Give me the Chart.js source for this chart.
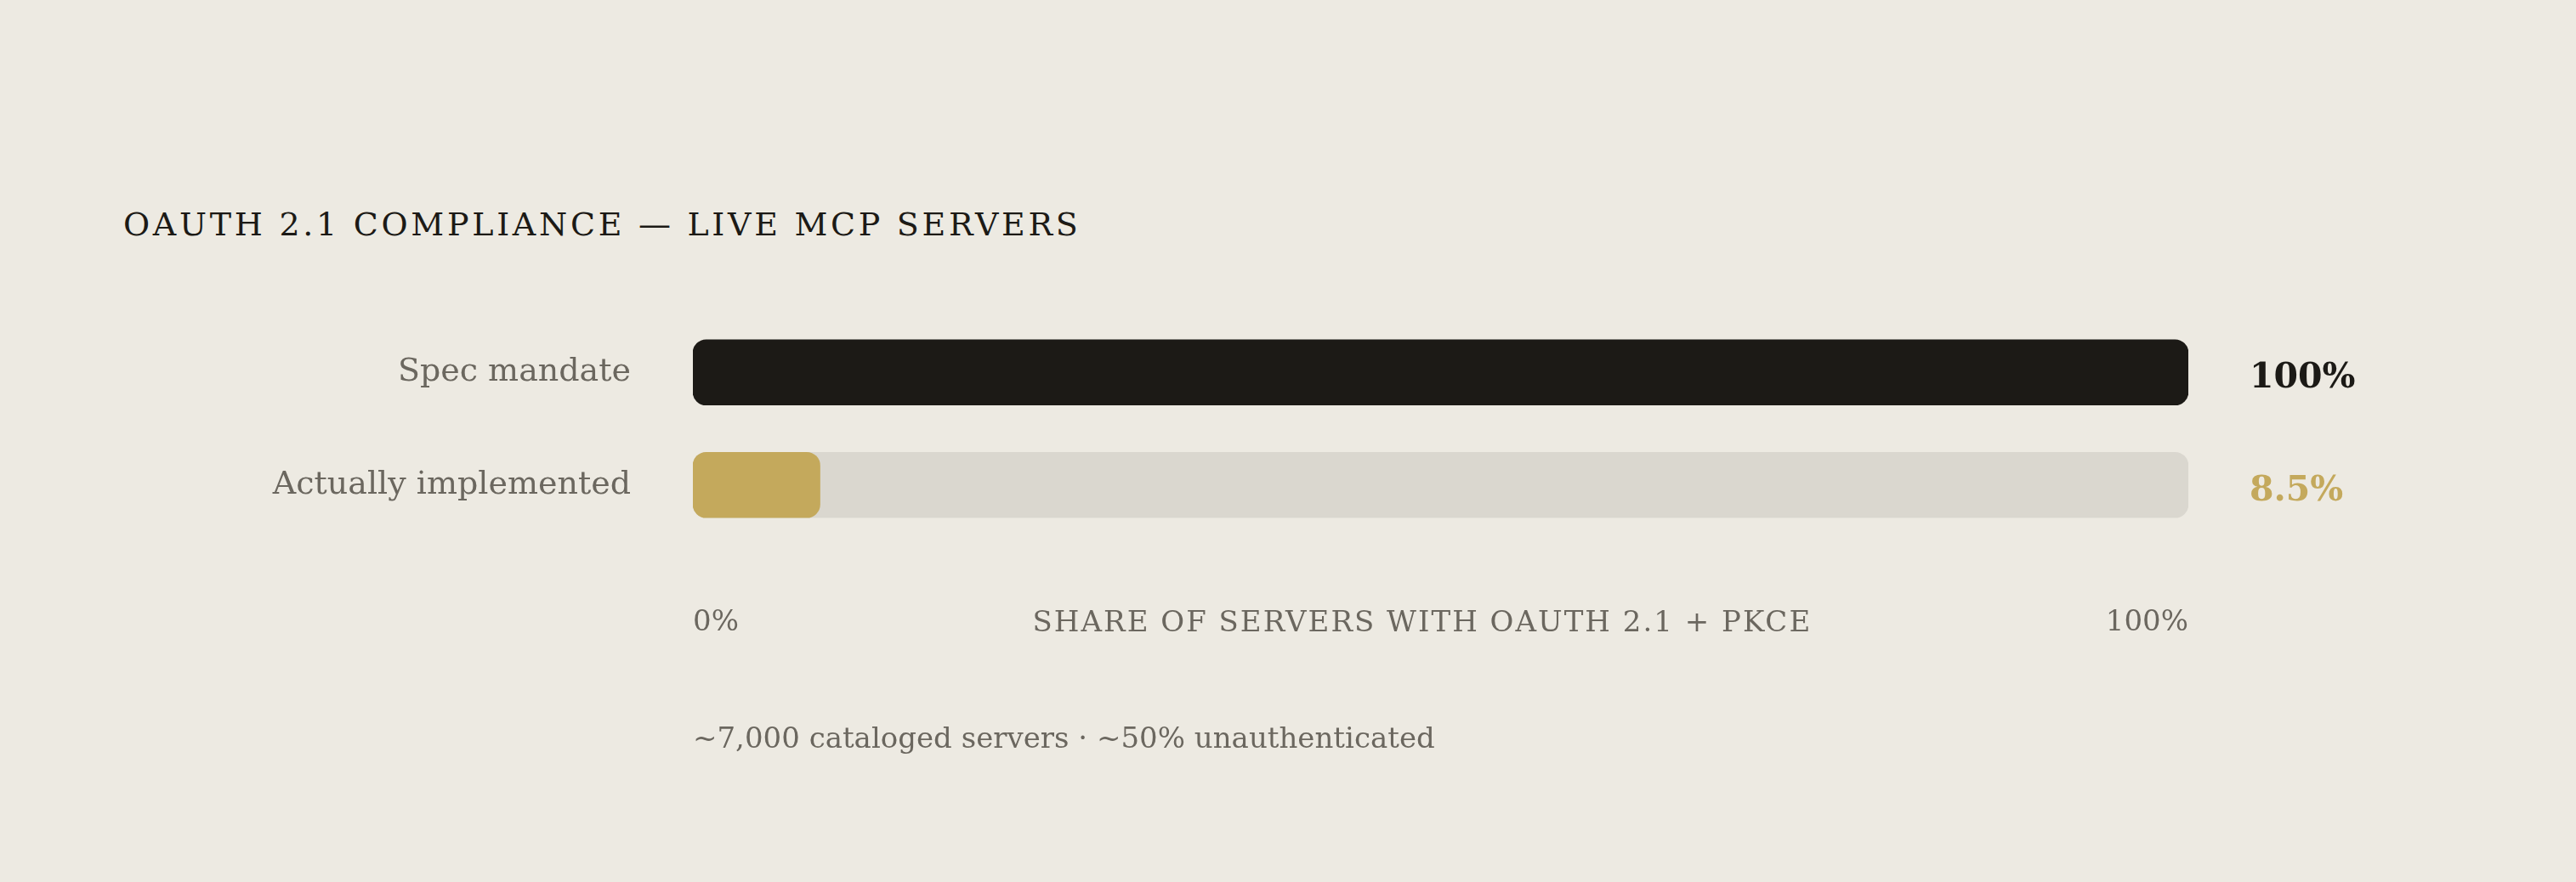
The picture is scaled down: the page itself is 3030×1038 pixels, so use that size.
<!DOCTYPE html>
<html>
<head>
<meta charset="utf-8">
<script src="https://cdn.jsdelivr.net/npm/chart.js@4.4.1/dist/chart.umd.min.js"></script>
<style>
  html, body { margin: 0; padding: 0; background: #edeae2; }
  #wrap { position: relative; width: 3030px; height: 1038px; overflow: hidden; }
  #chart-box { position: absolute; left: 0; top: 0; width: 3030px; height: 1038px; }
  .title {
    position: absolute; left: 145px; top: 245px;
    font: 38px "DejaVu Serif"; line-height: 1; letter-spacing: 3.7px;
    color: #1c1a16; white-space: nowrap;
  }
  .note {
    position: absolute; left: 815px; top: 851px;
    font: 34px "DejaVu Serif"; line-height: 1;
    color: #6b675f; white-space: nowrap;
  }
</style>
</head>
<body>
<div id="wrap">
  <div class="title">OAUTH 2.1 COMPLIANCE — LIVE MCP SERVERS</div>
  <div id="chart-box"><canvas id="chart"></canvas></div>
  <div class="note">~7,000 cataloged servers · ~50% unauthenticated</div>
</div>
<script>
const categories = ['Spec mandate', 'Actually implemented'];
const values = [100, 8.5];
const trackValues = [100, 100];
const tickValues = [0, 100];
const axisTitle = 'SHARE OF SERVERS WITH OAUTH 2.1 + PKCE';

const barColors = ['#1c1a16', '#c4a95c'];
const grey = '#6b675f';
const serif = '"DejaVu Serif", serif';

// percentage to the right of each bar
const valueLabels = {
  id: 'valueLabels',
  afterDatasetsDraw(chart) {
    const { ctx, chartArea } = chart;
    const meta = chart.getDatasetMeta(0);
    ctx.save();
    ctx.font = 'bold 41px ' + serif;
    ctx.textBaseline = 'alphabetic';
    ctx.textAlign = 'left';
    meta.data.forEach((bar, i) => {
      ctx.fillStyle = barColors[i];
      ctx.fillText(values[i] + '%', chartArea.right + 72, bar.y + 18);
    });
    ctx.restore();
  }
};

// axis caption, centred between the 0% and 100% labels
const axisCaption = {
  id: 'axisCaption',
  afterDraw(chart) {
    const { ctx, chartArea } = chart;
    ctx.save();
    ctx.font = '34px ' + serif;
    const left = chartArea.left + ctx.measureText(tickValues[0] + '%').width;
    const right = chartArea.right - ctx.measureText(tickValues[1] + '%').width;
    ctx.letterSpacing = '2px';
    ctx.fillStyle = grey;
    ctx.textAlign = 'center';
    ctx.textBaseline = 'alphabetic';
    ctx.fillText(axisTitle, (left + right) / 2, chartArea.bottom + 106);
    ctx.restore();
  }
};

new Chart(document.getElementById('chart'), {
  type: 'bar',
  data: {
    labels: categories,
    datasets: [
      {
        data: values,
        backgroundColor: barColors,
        borderRadius: 16,
        borderSkipped: false,
        barThickness: 77,
        grouped: false,
        order: 1,
      },
      {
        data: trackValues,
        backgroundColor: '#dad7cf',
        borderRadius: 16,
        borderSkipped: false,
        barThickness: 77,
        grouped: false,
        order: 2,
      },
    ],
  },
  options: {
    indexAxis: 'y',
    responsive: true,
    maintainAspectRatio: false,
    animation: false,
    layout: { padding: { top: 372, right: 456, bottom: 0, left: 0 } },
    scales: {
      x: {
        min: 0,
        max: 100,
        grid: { display: false },
        border: { display: false },
        afterFit(scale) { scale.height = 1038 - 637; },
        afterBuildTicks(scale) { scale.ticks = tickValues.map(v => ({ value: v })); },
        ticks: {
          callback: v => v + '%',
          align: 'inner',
          padding: 68,
          color: grey,
          font: { family: serif, size: 34 },
        },
      },
      y: {
        grid: { display: false },
        border: { display: false },
        afterFit(scale) { scale.width = 815; },
        ticks: {
          padding: 65,
          color: grey,
          font: { family: serif, size: 38 },
        },
      },
    },
    plugins: {
      legend: { display: false },
      tooltip: { enabled: false },
    },
  },
  plugins: [valueLabels, axisCaption],
});
</script>
</body>
</html>
